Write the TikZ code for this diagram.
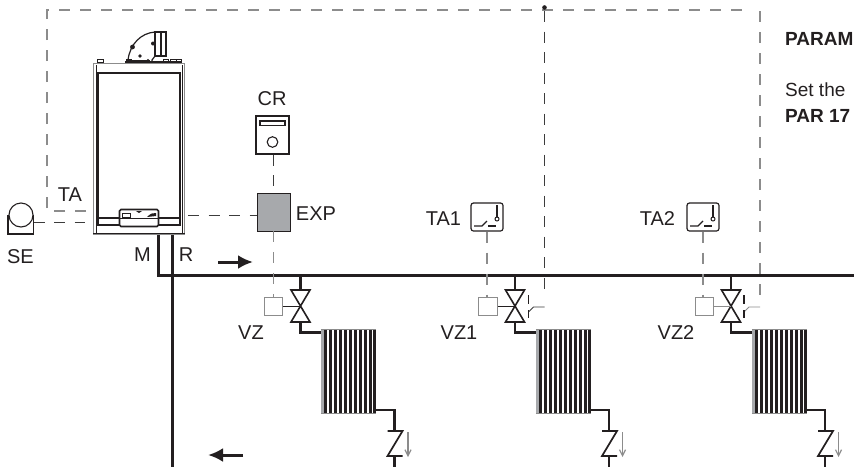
\documentclass[tikz,border=0pt]{standalone}
\usepackage{fontspec}
\setmainfont{Liberation Sans}
\usetikzlibrary{arrows.meta,calc}
\definecolor{wire}{HTML}{3C3C3C}
\definecolor{wiregray}{HTML}{8C8C8C}
\definecolor{pipe}{HTML}{231F20}
\definecolor{boxgray}{HTML}{A7A9AC}
\tikzset{
  wirea/.style={draw=wire,line width=1pt,dash pattern=on 11pt off 9.5pt},
  wireb/.style={draw=wiregray,line width=1.1pt,dash pattern=on 11pt off 10pt},
  pipeline/.style={draw=pipe,line width=3pt},
  zonepipe/.style={draw=pipe,line width=2.7pt},
  thinpart/.style={draw=pipe,line width=1.1pt},
  graypart/.style={draw=wiregray,line width=1pt},
  actbox/.style={draw=wiregray,line width=1.1pt,fill=white,minimum width=18.5pt,minimum height=18.5pt,inner sep=0pt},
  thermo/.style={draw=pipe,line width=1.2pt,rounded corners=2.5pt,minimum width=32pt,minimum height=28pt,inner sep=0pt},
  rad/.style={minimum width=55pt,minimum height=84pt,inner sep=0pt},
  lab/.style={font=\fontsize{20}{20}\selectfont,text=pipe,inner sep=0pt},
  par/.style={font=\fontsize{19}{19}\selectfont,text=pipe,inner sep=0pt,anchor=base west},
  parb/.style={par,font=\fontsize{19}{19}\bfseries\selectfont},
  flowarrow/.style={draw=pipe,line width=3pt,-{Latex[length=15pt,width=14pt]}},
}
\newcommand{\radiatorbars}[1]{%
  \foreach \k in {1,...,10}{\fill[pipe] ($(#1.west)+(\k*5-1.5,-41.5)$) rectangle ++(3,83);}
  \fill[boxgray] ($(#1.west)+(0.3,-41.5)$) rectangle ++(3,83);
  \fill[pipe] ($(#1.east)+(-3.2,-41.5)$) rectangle ++(3,83);
  \draw[graypart,line width=.8pt] ($(#1.west)+(0,-42)$) -- ($(#1.east)+(0,-42)$);
  \draw[graypart,line width=.8pt] ($(#1.west)+(0,42)$) -- ($(#1.east)+(0,42)$);
}
\begin{document}
\begin{tikzpicture}[x=1pt,y=-1pt]
\useasboundingbox (0,0) rectangle (854,467);

% ---------- boiler
\node[draw=wiregray,line width=1.6pt,minimum width=91pt,minimum height=171pt,inner sep=0pt] (boiler) at (139,149) {};
\draw[pipe,line width=.8pt] (96,65) -- (96,233) (182,65) -- (182,233) (93,233.5) -- (185,233.5);
\node[draw=pipe,line width=2.4pt,minimum width=82pt,minimum height=152pt,inner sep=0pt] (front) at (139,149) {};
\draw[pipe,line width=1.4pt] (98,218) -- (180,218);
\node[draw=pipe,line width=1.6pt,fill=white,rounded corners=1.5pt,minimum width=39pt,minimum height=17pt,inner sep=0pt] (panel) at (139,218) {};
\draw[pipe,line width=1.2pt] (120,218.5) -- (158,218.5);
\draw[pipe,line width=1pt] (122,213) rectangle (130,217);
\fill[pipe] (147,217) .. controls (151,213) and (153,213) .. (156,213) -- (156,216) -- cycle;
\fill[pipe] (136,211) -- (142,211) -- (139,213) -- cycle;
% flue
\draw[pipe,line width=1.2pt] (128,60) .. controls (130,44) and (141,33) .. (155,32);
\draw[pipe,line width=1.2pt] (155,56) -- (152,60) -- (152,62);
\draw[pipe,line width=1.2pt,fill=white] (155,32) rectangle (161,56);
\draw[pipe,line width=1.2pt,fill=white] (161,32) rectangle (166,56);
\draw[pipe,line width=1.4pt] (125,62) -- (182,62);
\draw[pipe,line width=1pt] (129,60) -- (150,60);
\fill[pipe] (126,59) rectangle (132,62);
\fill[pipe] (132.5,47) circle (2.4);
\fill[pipe] (153,43.5) circle (2);
\fill[pipe] (140,56) circle (1.8);
\fill[pipe] (148,60.5) circle (1.6);
\draw[pipe,line width=.8pt] (97,59) rectangle (103,62) (163,59) rectangle (168,62) (170,59) rectangle (176,62) (176,59) rectangle (181,62);

% ---------- top wiring
\coordinate (wL) at (47,211);
\coordinate (wTL) at (47,10);
\coordinate (wTR) at (742,10);
\draw[wireb] (86,211) -- (wL) -- (wTL) -- (wTR);
\fill[pipe] (544.5,7.5) circle (2.3);

% ---------- SE
\node[draw=pipe,line width=1.1pt,circle,minimum size=24pt,inner sep=0pt] (se) at (21,215) {};
\draw[thinpart] (se.west) ++(-.5,0) -- ++(0,19) -- ++(25.5,0) -- ++(0,-19);
\node[lab] (seLabel) at (20.5,256.5) {SE};
\coordinate (seEnd) at (85,222);
\draw[wirea] (seEnd -| se.east) -- (seEnd);
\node[lab] (taLabel) at (70,195) {TA};

% ---------- CR and EXP
\node[draw=pipe,line width=1.1pt,minimum width=33pt,minimum height=38pt,inner sep=0pt] (cr) at (272.5,135) {};
\draw[pipe,line width=1.1pt,fill=white] (260,121) rectangle (285,125.5);
\draw[pipe,line width=1.1pt] (272.5,142) circle (5.3);
\node[lab] (crLabel) at (272,98.5) {CR};
\node[draw=pipe,line width=.9pt,fill=boxgray,minimum width=33pt,minimum height=38pt,inner sep=0pt] (exp) at (273.5,212) {};
\node[lab] (expLabel) at (316,214) {EXP};
\draw[wirea] (cr.south -| exp.north) -- (exp.north);
\coordinate (boilerOut) at (188,215);
\draw[wirea] (boilerOut) -- (boilerOut -| exp.west);

% ---------- pipes
\coordinate (mTop) at (158.5,235);
\coordinate (rTop) at (172,235);
\coordinate (mCorner) at (158.5,275);
\coordinate (mEnd) at (854,275);
\coordinate (rEnd) at (172,467);
\draw[pipeline] (mTop) -- (mCorner) -- (mEnd);
\draw[pipeline] (rTop) -- (rEnd);
\node[lab] (mLabel) at (142.5,254.5) {M};
\node[lab] (rLabel) at (186,254.5) {R};
\coordinate (aA) at (218,262); \coordinate (aB) at (253,262);
\draw[flowarrow] (aA) -- (aB);
\coordinate (bA) at (243,455); \coordinate (bB) at (208,455);
\draw[flowarrow] (bA) -- (bB);

% ---------- zones
\foreach \name/\cx/\boxx/\radx/\chk/\lx/\lbl/\stem in {z0/300.5/273.5/348.5/394.5/251/VZ/pipe, z1/515/488/563.5/609/459/VZ1/pipe, z2/731/704.3/779.5/825/676/VZ2/wiregray}{
  \coordinate (\name vt) at (\cx,290);
  \draw[zonepipe] (\cx,275) -- (\name vt);
  \draw[draw=pipe,line width=1.6pt] (\cx-9.5,290) -- (\cx+9.5,290) -- (\cx-9.5,322) -- (\cx+9.5,322) -- cycle;
  \node[actbox] (\name box) at (\boxx,306.5) {};
  \draw[draw=\stem,line width=.9pt] (\name box.east) -- (\cx,306.5);
  \node[rad] (\name rad) at (\radx,371) {};
  \radiatorbars{\name rad}
  \draw[zonepipe] (\cx,322) -- (\cx,332.5) -- (\name rad.west |- 0,332.5);
  \draw[zonepipe] (\name rad.east |- 0,410) -- (\chk,410) -- (\chk,430);
  \draw[draw=pipe,line width=1.7pt] (\chk-7,431) -- (\chk+8,431) -- (\chk-7,456) -- (\chk+8,456);
  \draw[zonepipe] (\chk,456) -- (\chk,467);
  \draw[draw=wiregray,line width=1.2pt,-{Straight Barb[length=6pt,width=6pt]}] (\chk+13.5,432) -- (\chk+13.5,457);
  \node[lab] (\name label) at (\lx,333) {\lbl};
}
\draw[wireb] (exp.south) -- (z0box.north);

% ---------- room thermostats and switches
\foreach \name/\bx/\lx/\lbl/\sw/\zone/\ws/\wc in {t1/487/443.5/TA1/544.5/z1/wirea/wire, t2/703/657.5/TA2/760/z2/wireb/wiregray}{
  \node[thermo] (\name) at (\bx,217) {};
  \draw[draw=pipe,line width=1.1pt] (\bx-13,226) -- (\bx-5,226) -- (\bx,221);
  \draw[draw=pipe,line width=1.1pt] (\bx+1,226) -- (\bx+9,226);
  \draw[draw=pipe,line width=2.8pt] (\bx+10,205) -- (\bx+10,217);
  \draw[draw=pipe,line width=1pt] (\bx+10,219) circle (2);
  \node[lab] (\name label) at (\lx,219) {\lbl};
  \draw[wireb] (\name.south) -- (\name.south |- \zone box.north);
  \coordinate (\name sw) at (\sw,307);
  \draw[draw=\wc,line width=.9pt] (\name sw) -- ++(-11,0) -- ++(-5,5);
  \draw[draw=pipe,line width=1.3pt] (\sw-16,295) -- (\sw-16,304) (\sw-16,310) -- (\sw-16,318);
  \draw[\ws] (\sw,11) -- (\name sw |- 0,297);
}

% ---------- text
\node[parb] (p1) at (785,45) {PARAM};
\node[par] (p2) at (785,96) {Set the};
\node[parb] (p3) at (785,122.5) {PAR 17};
\end{tikzpicture}
\end{document}
